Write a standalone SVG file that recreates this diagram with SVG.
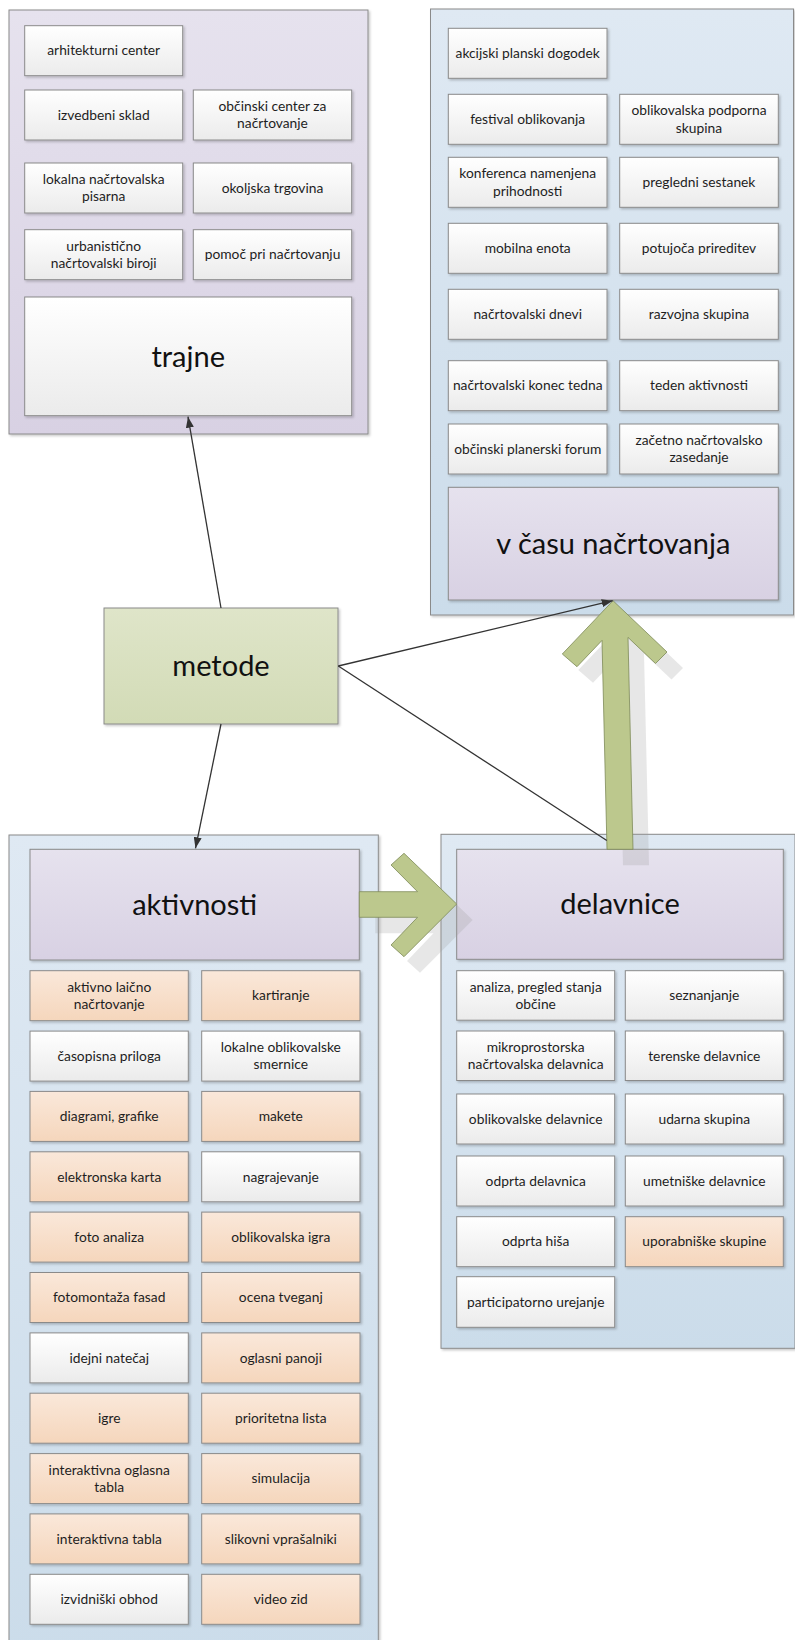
<svg xmlns="http://www.w3.org/2000/svg" width="795" height="1640" viewBox="0 0 795 1640">
  <defs>
    <linearGradient id="gWhite" x1="0" y1="0" x2="0" y2="1">
      <stop offset="0" stop-color="#ffffff"/>
      <stop offset="1" stop-color="#ebebeb"/>
    </linearGradient>
    <linearGradient id="gPeach" x1="0" y1="0" x2="0" y2="1">
      <stop offset="0" stop-color="#fae8da"/>
      <stop offset="1" stop-color="#f5d6bc"/>
    </linearGradient>
    <linearGradient id="gLilac" x1="0" y1="0" x2="0" y2="1">
      <stop offset="0" stop-color="#e6e2ee"/>
      <stop offset="1" stop-color="#d8d1e3"/>
    </linearGradient>
    <linearGradient id="gBlue" x1="0" y1="0" x2="0" y2="1">
      <stop offset="0" stop-color="#dfe9f3"/>
      <stop offset="1" stop-color="#cbdcea"/>
    </linearGradient>
    <linearGradient id="gGreen" x1="0" y1="0" x2="0" y2="1">
      <stop offset="0" stop-color="#dfe5c9"/>
      <stop offset="1" stop-color="#d2dbb6"/>
    </linearGradient>
    <filter id="shadow" x="-5%" y="-5%" width="115%" height="115%">
      <feDropShadow dx="1.5" dy="1.5" stdDeviation="0.8" flood-color="#000" flood-opacity="0.22"/>
    </filter>
    <marker id="arrow" markerUnits="userSpaceOnUse" markerWidth="11" markerHeight="8" refX="11" refY="4" orient="auto">
      <path d="M0,0 L11,4 L0,8 z" fill="#333"/>
    </marker>
  </defs>
  <style>
    rect { stroke: #8a8a8a; stroke-width: 1; filter: url(#shadow); }
    .white { fill: url(#gWhite); }
    .peach { fill: url(#gPeach); }
    .lilac { fill: url(#gLilac); }
    .blue { fill: url(#gBlue); }
    .green { fill: url(#gGreen); }
    text { font-family: Lato, "Liberation Sans", sans-serif; fill: #1e1e1e; text-anchor: middle; }
    .t { font-size: 13.8px; }
    .big { font-size: 29px; fill: #111; }
    .link { stroke: #333; stroke-width: 1.3; fill: none; }
    .fat { fill: #bcc88d; stroke: #7e8a58; stroke-width: 0.8; }
    .fatShadow { fill: #9a9a9a; opacity: 0.24; }
  </style>

  <!-- trajne -->
  <g id="trajne-group">
    <rect class="lilac" x="9" y="10" width="359" height="424"/>
    <g id="n-arhitekturni-center"><rect class="white" x="24.7" y="25.7" width="158" height="50"/><text class="t" x="103.7" y="55.4">arhitekturni center</text></g>
    <g id="n-izvedbeni-sklad"><rect class="white" x="24.7" y="90" width="158" height="50"/><text class="t" x="103.7" y="119.7">izvedbeni sklad</text></g>
    <g id="n-obcinski-center"><rect class="white" x="193.3" y="90" width="158.4" height="50"/><text class="t" x="272.5" y="111">občinski center za</text><text class="t" x="272.5" y="128.3">načrtovanje</text></g>
    <g id="n-lokalna-pisarna"><rect class="white" x="24.7" y="163" width="158" height="50"/><text class="t" x="103.7" y="184">lokalna načrtovalska</text><text class="t" x="103.7" y="201.3">pisarna</text></g>
    <g id="n-okoljska-trgovina"><rect class="white" x="193.3" y="163" width="158.4" height="50"/><text class="t" x="272.5" y="192.7">okoljska trgovina</text></g>
    <g id="n-urbanisticno"><rect class="white" x="24.7" y="229.7" width="158" height="50"/><text class="t" x="103.7" y="250.7">urbanistično</text><text class="t" x="103.7" y="268">načrtovalski biroji</text></g>
    <g id="n-pomoc"><rect class="white" x="193.3" y="229.7" width="158.4" height="50"/><text class="t" x="272.5" y="259.4">pomoč pri načrtovanju</text></g>
    <g id="n-trajne"><rect class="white" x="24.7" y="297" width="327" height="118.7"/><text class="big" x="188.2" y="366.5">trajne</text></g>
  </g>

  <!-- v času načrtovanja -->
  <g id="vcasu-group">
    <rect class="blue" x="430.5" y="9" width="363" height="606"/>
    <g id="n-akcijski"><rect class="white" x="448.3" y="28.3" width="158.7" height="50"/><text class="t" x="527.7" y="58">akcijski planski dogodek</text></g>
    <g id="n-festival"><rect class="white" x="448.3" y="94.3" width="158.7" height="50"/><text class="t" x="527.7" y="124">festival oblikovanja</text></g>
    <g id="n-podporna"><rect class="white" x="619.7" y="94.3" width="158.6" height="50"/><text class="t" x="699" y="115.3">oblikovalska podporna</text><text class="t" x="699" y="132.6">skupina</text></g>
    <g id="n-konferenca"><rect class="white" x="448.3" y="157.3" width="158.7" height="50"/><text class="t" x="527.7" y="178.3">konferenca namenjena</text><text class="t" x="527.7" y="195.6">prihodnosti</text></g>
    <g id="n-pregledni"><rect class="white" x="619.7" y="157.3" width="158.6" height="50"/><text class="t" x="699" y="187">pregledni sestanek</text></g>
    <g id="n-mobilna"><rect class="white" x="448.3" y="223.3" width="158.7" height="50"/><text class="t" x="527.7" y="253">mobilna enota</text></g>
    <g id="n-potujoca"><rect class="white" x="619.7" y="223.3" width="158.6" height="50"/><text class="t" x="699" y="253">potujoča prireditev</text></g>
    <g id="n-dnevi"><rect class="white" x="448.3" y="289.3" width="158.7" height="50"/><text class="t" x="527.7" y="319">načrtovalski dnevi</text></g>
    <g id="n-razvojna"><rect class="white" x="619.7" y="289.3" width="158.6" height="50"/><text class="t" x="699" y="319">razvojna skupina</text></g>
    <g id="n-konec-tedna"><rect class="white" x="448.3" y="360.7" width="158.7" height="50"/><text class="t" x="527.7" y="390.4">načrtovalski konec tedna</text></g>
    <g id="n-teden"><rect class="white" x="619.7" y="360.7" width="158.6" height="50"/><text class="t" x="699" y="390.4">teden aktivnosti</text></g>
    <g id="n-forum"><rect class="white" x="448.3" y="424" width="158.7" height="50"/><text class="t" x="527.7" y="453.7">občinski planerski forum</text></g>
    <g id="n-zacetno"><rect class="white" x="619.7" y="424" width="158.6" height="50"/><text class="t" x="699" y="445">začetno načrtovalsko</text><text class="t" x="699" y="462.3">zasedanje</text></g>
    <g id="n-vcasu"><rect class="lilac" x="448.3" y="487.3" width="330" height="112.7"/><text class="big" x="613.3" y="553.8">v času načrtovanja</text></g>
  </g>

  <!-- metode -->
  <g id="n-metode"><rect class="green" x="104" y="608" width="234" height="116"/><text class="big" x="221" y="676">metode</text></g>

  <!-- aktivnosti -->
  <g id="aktivnosti-group">
    <rect class="blue" x="9" y="835" width="369.3" height="820"/>
    <g id="n-aktivnosti"><rect class="lilac" x="30" y="849.3" width="329.3" height="110.7"/><text class="big" x="194.7" y="914.7">aktivnosti</text></g>
    <g id="n-aktivno"><rect class="peach" x="30" y="970.7" width="158.3" height="50"/><text class="t" x="109.2" y="991.7">aktivno laično</text><text class="t" x="109.2" y="1009">načrtovanje</text></g>
    <g id="n-kartiranje"><rect class="peach" x="201.7" y="970.7" width="158.3" height="50"/><text class="t" x="280.8" y="1000.4">kartiranje</text></g>
    <g id="n-casopisna"><rect class="white" x="30" y="1031.1" width="158.3" height="50"/><text class="t" x="109.2" y="1060.8">časopisna priloga</text></g>
    <g id="n-smernice"><rect class="white" x="201.7" y="1031.1" width="158.3" height="50"/><text class="t" x="280.8" y="1052.1">lokalne oblikovalske</text><text class="t" x="280.8" y="1069.4">smernice</text></g>
    <g id="n-diagrami"><rect class="peach" x="30" y="1091.4" width="158.3" height="50"/><text class="t" x="109.2" y="1121.1">diagrami, grafike</text></g>
    <g id="n-makete"><rect class="peach" x="201.7" y="1091.4" width="158.3" height="50"/><text class="t" x="280.8" y="1121.1">makete</text></g>
    <g id="n-elektronska"><rect class="peach" x="30" y="1151.8" width="158.3" height="50"/><text class="t" x="109.2" y="1181.5">elektronska karta</text></g>
    <g id="n-nagrajevanje"><rect class="white" x="201.7" y="1151.8" width="158.3" height="50"/><text class="t" x="280.8" y="1181.5">nagrajevanje</text></g>
    <g id="n-foto"><rect class="peach" x="30" y="1212.1" width="158.3" height="50"/><text class="t" x="109.2" y="1241.8">foto analiza</text></g>
    <g id="n-igra"><rect class="peach" x="201.7" y="1212.1" width="158.3" height="50"/><text class="t" x="280.8" y="1241.8">oblikovalska igra</text></g>
    <g id="n-fotomontaza"><rect class="peach" x="30" y="1272.5" width="158.3" height="50"/><text class="t" x="109.2" y="1302.2">fotomontaža fasad</text></g>
    <g id="n-ocena"><rect class="peach" x="201.7" y="1272.5" width="158.3" height="50"/><text class="t" x="280.8" y="1302.2">ocena tveganj</text></g>
    <g id="n-idejni"><rect class="white" x="30" y="1332.9" width="158.3" height="50"/><text class="t" x="109.2" y="1362.6">idejni natečaj</text></g>
    <g id="n-oglasni"><rect class="peach" x="201.7" y="1332.9" width="158.3" height="50"/><text class="t" x="280.8" y="1362.6">oglasni panoji</text></g>
    <g id="n-igre"><rect class="peach" x="30" y="1393.2" width="158.3" height="50"/><text class="t" x="109.2" y="1422.9">igre</text></g>
    <g id="n-prioritetna"><rect class="peach" x="201.7" y="1393.2" width="158.3" height="50"/><text class="t" x="280.8" y="1422.9">prioritetna lista</text></g>
    <g id="n-oglasna-tabla"><rect class="peach" x="30" y="1453.6" width="158.3" height="50"/><text class="t" x="109.2" y="1474.6">interaktivna oglasna</text><text class="t" x="109.2" y="1491.9">tabla</text></g>
    <g id="n-simulacija"><rect class="peach" x="201.7" y="1453.6" width="158.3" height="50"/><text class="t" x="280.8" y="1483.3">simulacija</text></g>
    <g id="n-tabla"><rect class="peach" x="30" y="1513.9" width="158.3" height="50"/><text class="t" x="109.2" y="1543.6">interaktivna tabla</text></g>
    <g id="n-vprasalniki"><rect class="peach" x="201.7" y="1513.9" width="158.3" height="50"/><text class="t" x="280.8" y="1543.6">slikovni vprašalniki</text></g>
    <g id="n-obhod"><rect class="white" x="30" y="1574.3" width="158.3" height="50"/><text class="t" x="109.2" y="1604">izvidniški obhod</text></g>
    <g id="n-video"><rect class="peach" x="201.7" y="1574.3" width="158.3" height="50"/><text class="t" x="280.8" y="1604">video zid</text></g>
  </g>

  <!-- delavnice -->
  <g id="delavnice-group">
    <rect class="blue" x="441" y="834.3" width="354" height="514"/>
    <g id="n-delavnice"><rect class="lilac" x="456.7" y="849.3" width="326.6" height="110"/><text class="big" x="620" y="914.3">delavnice</text></g>
    <g id="n-analiza"><rect class="white" x="456.7" y="970.7" width="158" height="49.5"/><text class="t" x="535.7" y="991.5">analiza, pregled stanja</text><text class="t" x="535.7" y="1008.8">občine</text></g>
    <g id="n-seznanjanje"><rect class="white" x="625.3" y="970.7" width="158" height="49.5"/><text class="t" x="704.3" y="1000.2">seznanjanje</text></g>
    <g id="n-mikro"><rect class="white" x="456.7" y="1031" width="158" height="49.5"/><text class="t" x="535.7" y="1051.8">mikroprostorska</text><text class="t" x="535.7" y="1069.1">načrtovalska delavnica</text></g>
    <g id="n-terenske"><rect class="white" x="625.3" y="1031" width="158" height="49.5"/><text class="t" x="704.3" y="1060.5">terenske delavnice</text></g>
    <g id="n-oblikovalske"><rect class="white" x="456.7" y="1094" width="158" height="50"/><text class="t" x="535.7" y="1123.7">oblikovalske delavnice</text></g>
    <g id="n-udarna"><rect class="white" x="625.3" y="1094" width="158" height="50"/><text class="t" x="704.3" y="1123.7">udarna skupina</text></g>
    <g id="n-odprta-delavnica"><rect class="white" x="456.7" y="1156" width="158" height="50"/><text class="t" x="535.7" y="1185.7">odprta delavnica</text></g>
    <g id="n-umetniske"><rect class="white" x="625.3" y="1156" width="158" height="50"/><text class="t" x="704.3" y="1185.7">umetniške delavnice</text></g>
    <g id="n-odprta-hisa"><rect class="white" x="456.7" y="1216.7" width="158" height="50"/><text class="t" x="535.7" y="1246.4">odprta hiša</text></g>
    <g id="n-uporabniske"><rect class="peach" x="625.3" y="1216.7" width="158" height="50"/><text class="t" x="704.3" y="1246.4">uporabniške skupine</text></g>
    <g id="n-participatorno"><rect class="white" x="456.7" y="1276.7" width="158" height="50.6"/><text class="t" x="535.7" y="1306.7">participatorno urejanje</text></g>
  </g>

  <!-- connectors -->
  <g id="connectors">
    <!-- block arrows with their soft shadows -->
    <g transform="translate(16,16)">
      <polygon class="fatShadow" points="456.7,904 404,956.7 391,945 417.5,917.3 359.3,917.3 359.3,891.7 417.5,891.7 391,865 404,853.3"/>
      <polygon class="fatShadow" points="613,600.7 667,652 655.5,663.5 628,637.4 633,849.3 607,849.3 602,640.4 577,666.7 562.3,654"/>
    </g>
    <polygon class="fat" points="456.7,904 404,956.7 391,945 417.5,917.3 359.3,917.3 359.3,891.7 417.5,891.7 391,865 404,853.3"/>
    <polygon class="fat" points="613,600.7 667,652 655.5,663.5 628,637.4 633,849.3 607,849.3 602,640.4 577,666.7 562.3,654"/>
    <!-- thin links from metode -->
    <line class="link" x1="221" y1="608" x2="188" y2="416.7" marker-end="url(#arrow)"/>
    <line class="link" x1="221" y1="724" x2="195.5" y2="848.3" marker-end="url(#arrow)"/>
    <line class="link" x1="338.3" y1="666" x2="612.7" y2="600.7" marker-end="url(#arrow)"/>
    <line class="link" x1="338.3" y1="666" x2="606.8" y2="840.5"/>
  </g>
</svg>
